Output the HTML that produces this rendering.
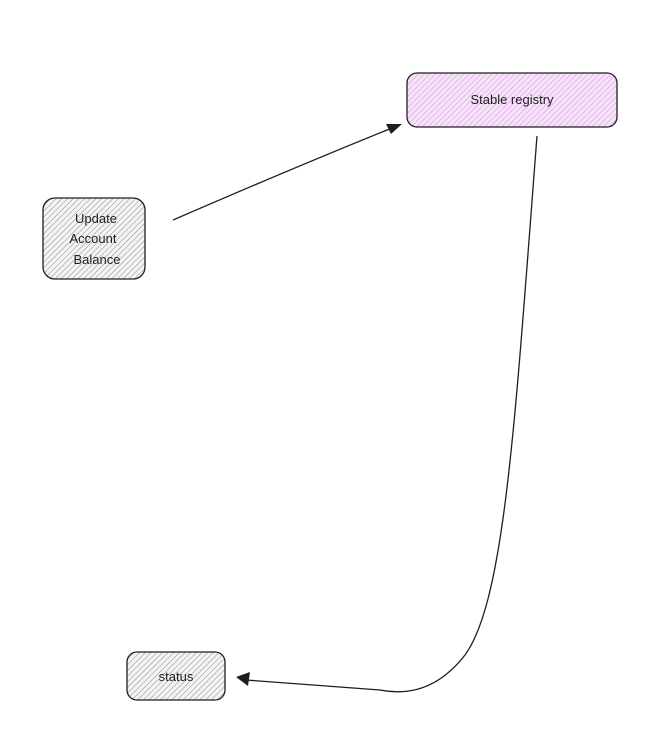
<!DOCTYPE html>
<html><head><meta charset="utf-8"><style>
body{margin:0;background:#fff;}
svg{display:block}
text{font-family:"Liberation Sans",sans-serif;font-size:13px;fill:#1e1e1e;text-anchor:middle}
</style></head><body>
<svg width="648" height="731" viewBox="0 0 648 731" xmlns="http://www.w3.org/2000/svg">
<defs>
<pattern id="hg" width="4" height="4" patternUnits="userSpaceOnUse" patternTransform="rotate(45)">
<rect width="4" height="4" fill="#f4f4f4"/><line x1="0" y1="0" x2="0" y2="4" stroke="#8a8a8a" stroke-width="1"/></pattern>
<pattern id="hp" width="4" height="4" patternUnits="userSpaceOnUse" patternTransform="rotate(45)">
<rect width="4" height="4" fill="#f6e4f8"/><line x1="0" y1="0" x2="0" y2="4" stroke="#d58ee0" stroke-width="1"/></pattern>
</defs>
<rect x="407" y="73" width="210" height="54" rx="10" fill="url(#hp)" stroke="#1e1e1e" stroke-width="1.3"/>
<text x="512" y="104">Stable registry</text>
<rect x="43" y="198" width="102" height="81" rx="12" fill="url(#hg)" stroke="#1e1e1e" stroke-width="1.3"/>
<text x="96" y="223">Update</text>
<text x="93" y="243">Account</text>
<text x="97" y="264">Balance</text>
<rect x="127" y="652" width="98" height="48" rx="10" fill="url(#hg)" stroke="#1e1e1e" stroke-width="1.3"/>
<text x="176" y="681">status</text>
<path d="M173 220 Q300 165 392 128" fill="none" stroke="#1e1e1e" stroke-width="1.3"/>
<polygon points="402,124 386,124 391,134" fill="#1e1e1e"/>
<path d="M537 136 C515 420 505 600 465 655 Q430 700 380 690 L246 680" fill="none" stroke="#1e1e1e" stroke-width="1.3"/>
<polygon points="236,677 250,672 248,686" fill="#1e1e1e"/>
</svg>
</body></html>
